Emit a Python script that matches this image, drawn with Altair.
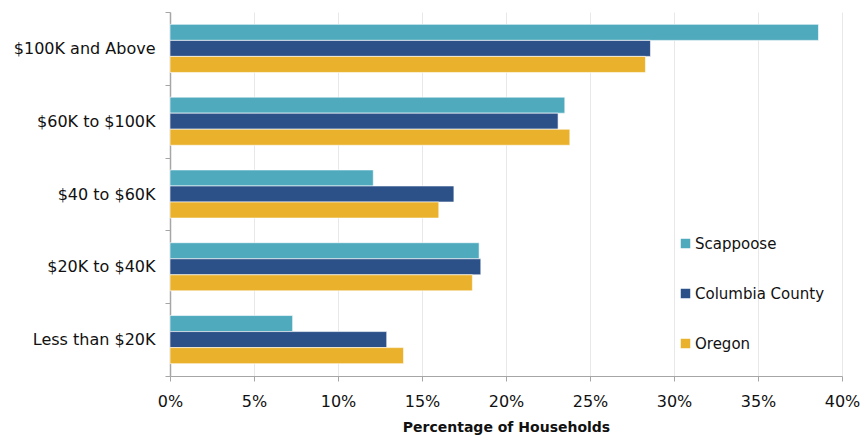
import altair as alt
import pandas as pd

categories = ["$100K and Above", "$60K to $100K", "$40 to $60K", "$20K to $40K", "Less than $20K"]
series = ["Scappoose", "Columbia County", "Oregon"]
scappoose = [38.6, 23.5, 12.1, 18.4, 7.3]
columbia = [28.6, 23.1, 16.9, 18.5, 12.9]
oregon = [28.3, 23.8, 16.0, 18.0, 13.9]
colors = ["#4FAABE", "#2C5189", "#EAB22C"]
x_ticks = [0, 5, 10, 15, 20, 25, 30, 35, 40]

rows = []
for name, vals in zip(series, [scappoose, columbia, oregon]):
    for cat, v in zip(categories, vals):
        rows.append({"category": cat, "series": name, "value": v / 100})
df = pd.DataFrame(rows)

FONT = "DejaVu Sans"
AXIS_GRAY = "#A6A6A6"

chart = alt.Chart(df).mark_bar(stroke="white", strokeWidth=0.6).encode(
    x=alt.X(
        "value:Q",
        scale=alt.Scale(domain=[0, 0.4], nice=False, zero=True),
        axis=alt.Axis(
            values=[t / 100 for t in x_ticks],
            format=".0%",
            title="Percentage of Households",
            grid=True,
            gridColor="#E8E8E8",
            domainColor=AXIS_GRAY,
            tickColor=AXIS_GRAY,
            tickSize=5,
            labelPadding=12,
            labelFlush=False,
            titlePadding=11,
            labelFontSize=16,
            titleFontSize=14,
            titleFontWeight="bold",
            labelColor="#111111",
            titleColor="#111111",
            labelFont=FONT,
            titleFont=FONT,
        ),
    ),
    y=alt.Y(
        "category:N",
        sort=categories,
        scale=alt.Scale(paddingInner=0, paddingOuter=0),
        axis=alt.Axis(
            title=None,
            tickBand="extent",
            grid=False,
            domainColor=AXIS_GRAY,
            domainWidth=1.5,
            tickColor=AXIS_GRAY,
            tickSize=5,
            labelPadding=10,
            labelFontSize=16,
            labelColor="#111111",
            labelFont=FONT,
        ),
    ),
    yOffset=alt.YOffset("series:N", sort=series, scale=alt.Scale(paddingInner=0, paddingOuter=0.77)),
    color=alt.Color(
        "series:N",
        sort=series,
        scale=alt.Scale(domain=series, range=colors),
        legend=alt.Legend(
            title=None,
            orient="none",
            legendX=508,
            legendY=224,
            symbolType="square",
            symbolSize=90,
            symbolStrokeWidth=0,
            labelFontSize=15,
            labelFont=FONT,
            labelColor="#111111",
            labelOffset=2,
            rowPadding=34,
            padding=0,
        ),
    ),
).properties(
    width=672,
    height=364,
    autosize=alt.AutoSizeParams(type="none"),
    padding={"left": 162, "top": 4, "right": 18, "bottom": 64},
).configure_view(stroke=None)

chart.save("out.html", embed_options={"renderer": "svg", "actions": False})
